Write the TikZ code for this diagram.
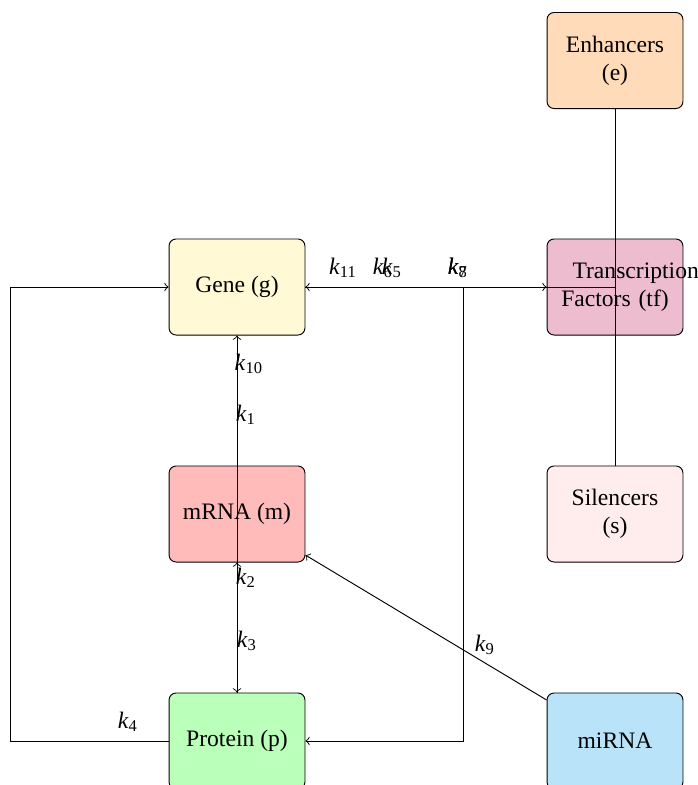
\documentclass[tikz,border=0pt]{standalone}
\usepackage{fontspec}
\setmainfont{Liberation Serif}
\definecolor{geneC}{RGB}{255,249,214}
\definecolor{mrnaC}{RGB}{255,186,186}
\definecolor{protC}{RGB}{186,255,186}
\definecolor{enhC}{RGB}{255,219,185}
\definecolor{tfC}{RGB}{237,188,207}
\definecolor{silC}{RGB}{255,236,236}
\definecolor{mirC}{RGB}{184,227,248}
\newcommand{\rate}[1]{\textit{k}\textsubscript{#1}}
\begin{document}
\begin{tikzpicture}[x=0.4237pt,y=-0.4237pt,
  box/.style={draw, rounded corners=3pt, minimum width=57.6pt, minimum height=40.7pt, inner sep=3.33pt, align=center},
  lab/.style={inner sep=0pt}]
\useasboundingbox (0,0) rectangle (698,785);
\clip (0,0) rectangle (698,785);
% nodes
\node[box, fill=geneC] (g) at (237,287) {Gene (g)};
\node[box, fill=mrnaC] (m) at (237,514) {mRNA (m)};
\node[box, fill=protC] (p) at (237,741) {Protein (p)};
\node[box, fill=enhC] (e) at (615,60.5) {Enhancers\\(e)};
\node[box, fill=tfC, text width=46pt] (tf) at (615,287) {\hspace*{5pt}\mbox{Transcription}\\Factors (tf)};
\node[box, fill=silC] (s) at (615,514) {Silencers\\(s)};
\node[box, fill=mirC] (mi) at (615,741) {miRNA};
\coordinate (cl) at (10,741);
\coordinate (jn) at (463.5,287);
% connectors
\draw[->] (p.west) -- (cl) |- (g.west);
\draw[->] (p.north) -- (g.south);
\draw[->] (p.north) -- (m.south);
\draw[->] (m.south) -- (p.north);
\draw[->] (tf.center) -- (g.east);
\draw[->] (g.east) -- (tf.west);
\draw (e.south) -- (s.north);
\draw[->] (jn) |- (p.east);
\draw[->] (mi) -- (m);
% labels
\node[lab] (k10) at (249,364) {\rate{10}};
\node[lab] (k1) at (246,415) {\rate{1}};
\node[lab] (k2) at (246,578) {\rate{2}};
\node[lab] (k3) at (247,641) {\rate{3}};
\node[lab] (k9) at (485,645) {\rate{9}};
\node[lab] (k4) at (128,722) {\rate{4}};
\node[lab] (k11) at (343,268) {\rate{11}};
\node[lab] (k6) at (383,268) {\rate{6}};
\node[lab] (k5) at (392,268) {\rate{5}};
\node[lab] (k7) at (458,268) {\rate{7}};
\node[lab] (k8) at (458,268) {\rate{8}};
\end{tikzpicture}
\end{document}
